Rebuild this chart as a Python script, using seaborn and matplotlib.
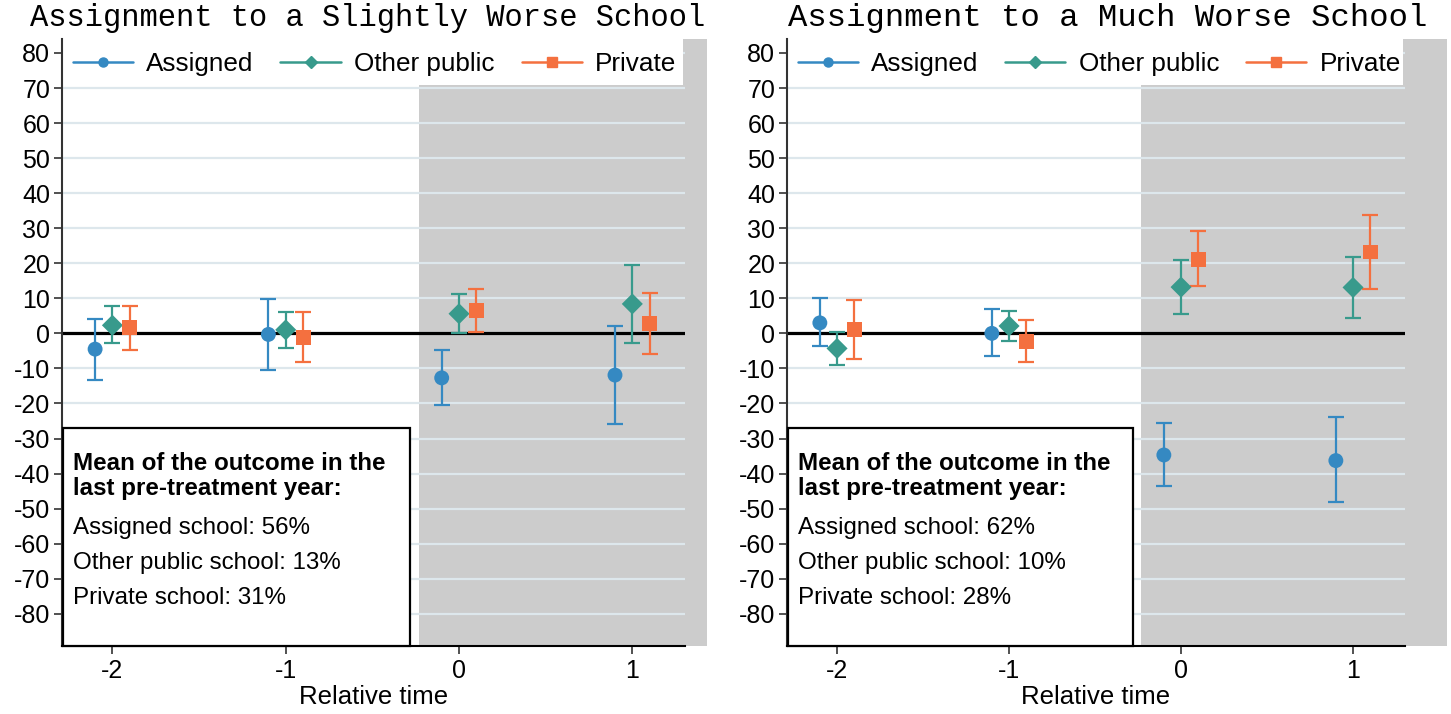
import matplotlib
matplotlib.use("Agg")
import matplotlib.pyplot as plt
import seaborn as sns
import pandas as pd
import numpy as np
from matplotlib.patches import Rectangle
from matplotlib.lines import Line2D

# ---------------- data ----------------
times = [-2, -1, 0, 1]
groups = ["Assigned", "Other public", "Private"]

# Panel 1: Assignment to a Slightly Worse School
sw_assigned_est = [-4.5, -0.3, -12.7, -11.9]
sw_assigned_lo = [-13.3, -10.4, -20.5, -25.9]
sw_assigned_hi = [4.2, 9.7, -4.8, 2.1]
sw_other_est = [2.3, 1.0, 5.6, 8.4]
sw_other_lo = [-2.7, -4.3, 0.0, -2.7]
sw_other_hi = [7.7, 6.2, 11.1, 19.5]
sw_private_est = [1.7, -1.3, 6.5, 2.8]
sw_private_lo = [-4.7, -8.3, 0.5, -5.9]
sw_private_hi = [7.8, 6.0, 12.7, 11.5]
sw_means = [56, 13, 31]

# Panel 2: Assignment to a Much Worse School
mw_assigned_est = [3.0, 0.0, -34.7, -36.3]
mw_assigned_lo = [-3.7, -6.6, -43.6, -48.1]
mw_assigned_hi = [10.0, 6.9, -25.5, -24.0]
mw_other_est = [-4.3, 2.1, 13.2, 13.1]
mw_other_lo = [-9.0, -2.3, 5.5, 4.3]
mw_other_hi = [0.4, 6.5, 21.0, 21.9]
mw_private_est = [1.1, -2.2, 21.2, 23.2]
mw_private_lo = [-7.3, -8.1, 13.4, 12.7]
mw_private_hi = [9.5, 3.7, 29.1, 33.7]
mw_means = [62, 10, 28]

titles = ["Assignment to a Slightly Worse School", "Assignment to a Much Worse School"]
yticks = list(range(-80, 81, 10))
xticks = [-2, -1, 0, 1]
xlabel = "Relative time"
box_title = ["Mean of the outcome in the", "last pre-treatment year:"]
box_labels = ["Assigned school", "Other public school", "Private school"]

# ---------------- style ----------------
colors = {"Assigned": "#3589c2", "Other public": "#389a8c", "Private": "#f4703f"}
markers = {"Assigned": "o", "Other public": "D", "Private": "s"}
offsets = {"Assigned": -0.1, "Other public": 0.0, "Private": 0.1}

sns.set_theme(style="white")
plt.rcParams["font.family"] = ["Liberation Sans", "DejaVu Sans"]
plt.rcParams["text.color"] = "black"
plt.rcParams["axes.labelcolor"] = "black"
plt.rcParams["xtick.color"] = "black"
plt.rcParams["ytick.color"] = "black"

def make_df(a_e, a_l, a_h, o_e, o_l, o_h, p_e, p_l, p_h):
    rows = []
    for g, (e, l, h) in zip(groups, [(a_e, a_l, a_h), (o_e, o_l, o_h), (p_e, p_l, p_h)]):
        for t, ee, ll, hh in zip(times, e, l, h):
            rows.append(dict(group=g, time=t, est=ee, lo=ll, hi=hh))
    df = pd.DataFrame(rows)
    df["xpos"] = df["time"] + df["group"].map(offsets)
    return df

dfs = [
    make_df(sw_assigned_est, sw_assigned_lo, sw_assigned_hi, sw_other_est, sw_other_lo, sw_other_hi,
            sw_private_est, sw_private_lo, sw_private_hi),
    make_df(mw_assigned_est, mw_assigned_lo, mw_assigned_hi, mw_other_est, mw_other_lo, mw_other_hi,
            mw_private_est, mw_private_lo, mw_private_hi),
]
means = [sw_means, mw_means]

fig = plt.figure(figsize=(14.51, 7.14), dpi=100)
W, H = 1451, 714
axes_px = [(62, 685), (787, 1405)]
top_px, bot_px = 39.3, 646
xlims = [(-2.291, 1.304), (-2.291, 1.302)]
grey_x = [(-0.231, 1.431), (-0.233, 1.547)]
title_cx = [368, 1108]
title_fs = [22, 23.2]
ymin, ymax = -89.2, 83.9

for i in range(2):
    l, r = axes_px[i]
    ax = fig.add_axes([l / W, (H - bot_px) / H, (r - l) / W, (bot_px - top_px) / H])
    df = dfs[i]
    ax.set_xlim(*xlims[i])
    ax.set_ylim(ymin, ymax)

    # grey post-treatment shading (extends slightly beyond plot region)
    gx0, gx1 = grey_x[i]
    ax.add_patch(Rectangle((gx0, ymin), gx1 - gx0, ymax - ymin, facecolor="#cccccc",
                           edgecolor="none", zorder=0, clip_on=False))
    # white legend band
    yb = (70.8 - ymin) / (ymax - ymin)
    ax.add_patch(Rectangle((0, yb), 0.997, 1 - yb, transform=ax.transAxes,
                           facecolor="white", edgecolor="none", zorder=1.5))

    ax.set_axisbelow(True)
    ax.yaxis.grid(True, color="#dde7ec", linewidth=1.6)
    ax.xaxis.grid(False)
    ax.axhline(0, color="black", linewidth=2.3, zorder=2)

    for g in groups:
        sub = df[df["group"] == g]
        ax.errorbar(sub["xpos"], sub["est"],
                    yerr=[sub["est"] - sub["lo"], sub["hi"] - sub["est"]],
                    fmt="none", ecolor=colors[g], elinewidth=1.6, capsize=6, capthick=1.6, zorder=3)
    sns.scatterplot(data=df, x="xpos", y="est", hue="group", style="group",
                    palette=colors, markers=markers, hue_order=groups, style_order=groups,
                    s=115, linewidth=0, ax=ax, legend=False, zorder=4)

    ax.set_yticks(yticks)
    ax.set_yticklabels([str(v) for v in yticks])
    ax.set_xticks(xticks)
    ax.set_xticklabels([str(v) for v in xticks])
    ax.tick_params(axis="both", which="both", direction="out", length=5.5, width=1.1,
                   color="#222222", labelsize=18, pad=3, left=True, bottom=True)
    ax.tick_params(axis="x", pad=4)
    ax.set_xlabel(xlabel, fontsize=18.5, labelpad=1)
    ax.set_ylabel("")
    for s in ["top", "right"]:
        ax.spines[s].set_visible(False)
    ax.spines["left"].set_color("#333333")
    ax.spines["left"].set_linewidth(1.5)
    ax.spines["bottom"].set_color("black")
    ax.spines["bottom"].set_linewidth(1.5)

    # legend
    handles = [Line2D([0], [0], color=colors[g], marker=markers[g], markersize=6.5, linewidth=1.8)
               for g in groups]
    ax.legend(handles, groups, loc="upper left", bbox_to_anchor=(0.017, 0.979), ncol=3,
              frameon=False, fontsize=18.8, handlelength=2.3, handletextpad=0.5,
              columnspacing=1.05, borderpad=0.0, borderaxespad=0.0)

    # annotation box
    box_w = 0.557 if i == 0 else 0.558
    box_h = (bot_px - 428) / (bot_px - top_px)
    ax.add_patch(Rectangle((0.0016, 0.0), box_w, box_h, transform=ax.transAxes,
                           facecolor="white", edgecolor="black", linewidth=1.6, zorder=6,
                           clip_on=False))
    tx = 0.0177
    ys_px = [464, 488, 528, 563, 598]
    lines = box_title + [f"{lab}: {m}%" for lab, m in zip(box_labels, means[i])]
    for j, (txt, ypx) in enumerate(zip(lines, ys_px)):
        ax.text(tx, (bot_px - ypx) / (bot_px - top_px), txt, transform=ax.transAxes,
                fontsize=17.4, fontweight="bold" if j < 2 else "normal",
                va="center", ha="left", zorder=7)

    fig.text(title_cx[i] / W, 1 - 18 / H, titles[i], family="Liberation Mono",
             fontsize=title_fs[i], ha="center", va="center")

fig.savefig("out.png", dpi=100)
